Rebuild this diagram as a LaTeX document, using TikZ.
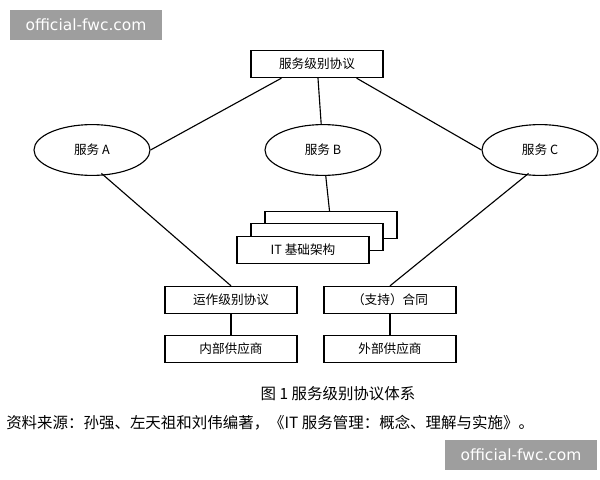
\documentclass[tikz,border=0pt]{standalone}
\usepackage{fontspec}
\setmainfont{Noto Sans CJK SC}
\newfontfamily\wmfont{DejaVu Sans}
\usetikzlibrary{shapes.geometric}
\tikzset{
  sbox/.style={draw,thick,minimum width=3.3cm,minimum height=0.68cm,inner sep=0pt,font=\fontsize{9}{9}\selectfont},
  svc/.style={draw,thick,ellipse,minimum width=2.9cm,minimum height=1.27cm,font=\fontsize{9}{9}\selectfont},
  wmark/.style={fill=black!38,text=white,minimum width=3.8cm,minimum height=0.75cm,inner sep=0pt,font=\wmfont\fontsize{11}{11}\selectfont},
}
\begin{document}
\begin{tikzpicture}[x=0.025cm,y=-0.025cm]
    \useasboundingbox (0,0) rectangle (600,480);
    % watermarks
    \node[wmark] (wm1) at (86,25) {official-fwc.com};
    \node[wmark] (wm2) at (521,455) {official-fwc.com};
    % top
    \node[sbox] (sla) at (317,64) {服务级别协议};
    % services
    \node[svc] (sa) at (92,150) {服务 A};
    \node[svc] (sb) at (323,150) {服务 B};
    \node[svc] (sc) at (540,150) {服务 C};
    % IT stack
    \node[sbox,fill=white] (it3) at (331,225) {};
    \node[sbox,fill=white] (it2) at (317,237) {};
    \node[sbox,fill=white] (it1) at (303,250) {IT 基础架构};
    % agreements
    \node[sbox] (ola) at (231,300) {运作级别协议};
    \node[sbox] (uc) at (390,300) {（支持）合同};
    \node[sbox] (isp) at (231,349) {内部供应商};
    \node[sbox] (esp) at (390,349) {外部供应商};
    % captions
    \node[font=\fontsize{11}{11}\selectfont] (cap) at (338,394) {图 1 服务级别协议体系};
    \node[font=\fontsize{11}{11}\selectfont,anchor=west,inner sep=0pt] (src) at (6,423)
        {资料来源：孙强、左天祖和刘伟编著，《IT 服务管理：概念、理解与实施》。};
    % connectors
    \draw[thick] (sla.south west) ++(31,0) coordinate (p1) -- (sa.east);
    \draw[thick] (sla) -- (sb);
    \draw[thick] (sla.south east) ++(-27,0) coordinate (p2) -- (sc.west);
    \draw[thick] (sb) -- (it3);
    \draw[thick] (sa.south east) ++(-32,5) coordinate (p3) -- (ola.north);
    \draw[thick] (sc.south west) ++(30,5) coordinate (p4) -- (uc.north);
    \draw[thick] (ola) -- (isp);
    \draw[thick] (uc) -- (esp);
\end{tikzpicture}
\end{document}
